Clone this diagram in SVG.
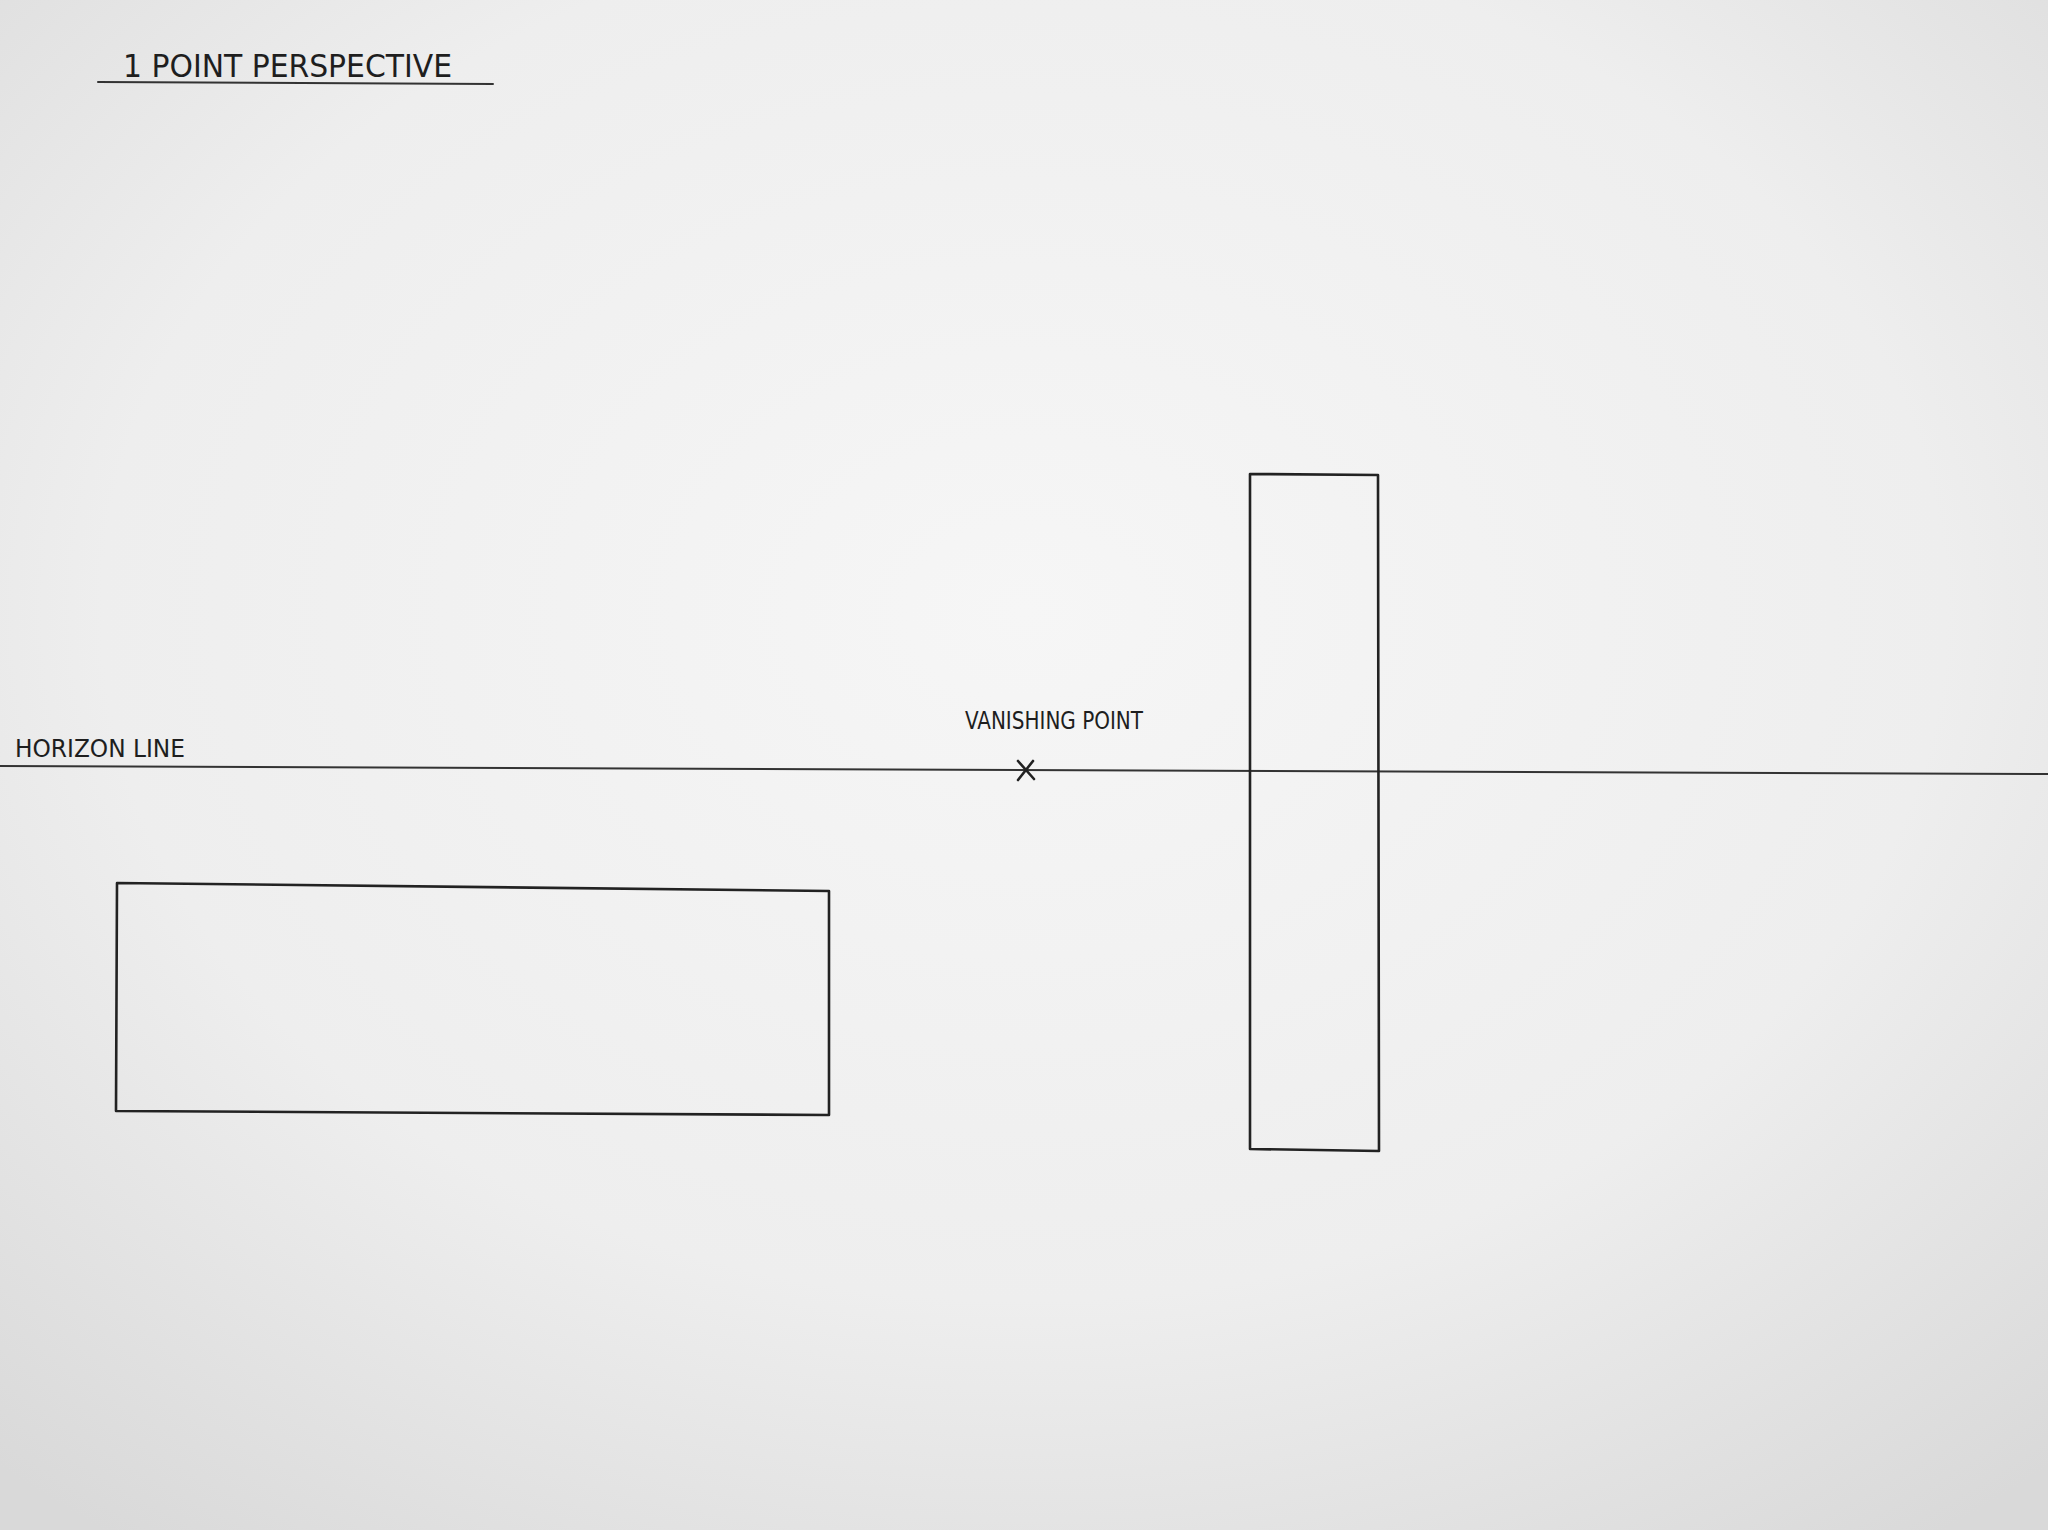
<svg xmlns="http://www.w3.org/2000/svg" width="2048" height="1530" viewBox="0 0 2048 1530">
  <defs>
    <radialGradient id="paper" cx="50%" cy="40%" r="75%">
      <stop offset="0" stop-color="#f6f6f6"/>
      <stop offset="0.6" stop-color="#eeeeee"/>
      <stop offset="1" stop-color="#d9d9d9"/>
    </radialGradient>
  </defs>
  <style>
    .ink { fill: none; stroke: #222; stroke-width: 2.6; stroke-linecap: round; stroke-linejoin: round; }
    .thin { fill: none; stroke: #333; stroke-width: 2; stroke-linecap: round; }
    .hand { font-family: "DejaVu Sans Condensed", "Liberation Sans", sans-serif; fill: #1e1e1e; font-weight: normal; }
  </style>
  <rect x="0" y="0" width="2048" height="1530" fill="url(#paper)"/>

  <g id="title">
    <text class="hand" x="123" y="77" font-size="32" textLength="329" lengthAdjust="spacingAndGlyphs">1 POINT PERSPECTIVE</text>
    <line class="thin" x1="98" y1="82" x2="493" y2="84"/>
  </g>

  <g id="connectors">
    <line class="thin" x1="0" y1="766" x2="2048" y2="774"/>
  </g>

  <g id="horizon-label">
    <text class="hand" x="15" y="757" font-size="25" textLength="170" lengthAdjust="spacingAndGlyphs">HORIZON LINE</text>
  </g>

  <g id="vanishing-point">
    <text class="hand" x="965" y="729" font-size="25" textLength="178" lengthAdjust="spacingAndGlyphs">VANISHING POINT</text>
    <path class="ink" d="M1018 761 L1034 779 M1033 761 L1018 780"/>
  </g>

  <g id="left-rect">
    <path class="ink" d="M117 883 L829 891 L829 1115 L116 1111 Z"/>
  </g>

  <g id="right-rect">
    <path class="ink" d="M1250 474 L1378 475 L1379 1151 L1250 1149 Z"/>
  </g>
</svg>
